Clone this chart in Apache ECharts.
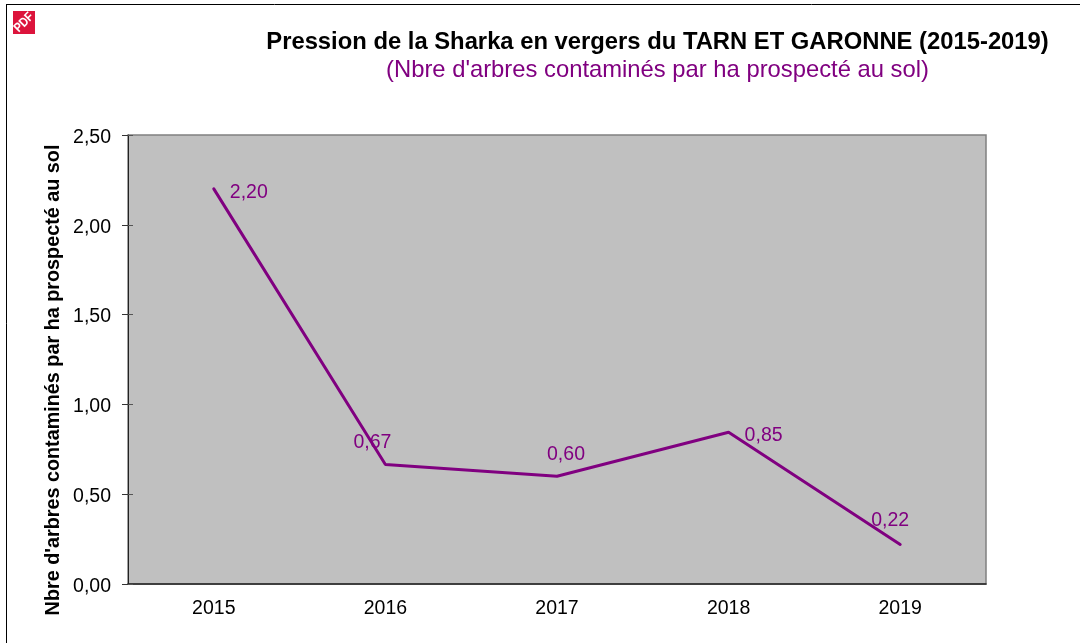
<!DOCTYPE html>
<html>
<head>
<meta charset="utf-8">
<style>
  html, body { margin: 0; padding: 0; background: #fff; }
  #chart { width: 1080px; height: 643px; }
</style>
<script src="https://cdn.jsdelivr.net/npm/echarts@6/dist/echarts.min.js"></script>
</head>
<body>
<div id="chart"></div>
<script>
// Pression de la Sharka

var years = ['2015', '2016', '2017', '2018', '2019'];
var pression = [2.20, 0.665, 0.60, 0.845, 0.22];
var valueLabels = ['2,20', '0,67', '0,60', '0,85', '0,22'];
var labelOffsets = [[35, 14], [-13, -11], [9, -11], [35, 14], [-10, -13]];

var purple = '#800080';
var fontName = '"Liberation Sans", Arial, sans-serif';

var chart = echarts.init(document.querySelector('#chart'), null, { renderer: 'canvas' });

chart.setOption({
    animation: false,
    backgroundColor: '#ffffff',
    title: [
        {
            text: 'Pression de la Sharka en vergers du TARN ET GARONNE (2015-2019)',
            left: 652.5,
            top: 25,
            textAlign: 'center',
            textStyle: { color: '#000', fontFamily: fontName, fontSize: 23.8, fontWeight: 'bold' }
        },
        {
            text: "(Nbre d'arbres contaminés par ha prospecté au sol)",
            left: 652.5,
            top: 53,
            textAlign: 'center',
            textStyle: { color: purple, fontFamily: fontName, fontSize: 23.8, fontWeight: 'normal' }
        }
    ],
    grid: {
        left: 128,
        right: 94,
        top: 135,
        bottom: 59,
        show: true,
        backgroundColor: '#c0c0c0',
        borderColor: '#808080',
        borderWidth: 1.5
    },
    xAxis: [
        {
            type: 'category',
            data: years,
            axisLine: { lineStyle: { color: '#222', width: 1.5 } },
            axisTick: { alignWithLabel: false, length: 6, lineStyle: { color: '#222' } },
            axisLabel: { color: '#000', fontFamily: fontName, fontSize: 19.5, margin: 15 },
            splitLine: { show: false }
        },
        {
            type: 'category',
            data: years,
            position: 'bottom',
            axisLine: { show: false },
            axisTick: { inside: true, length: 5, lineStyle: { color: '#555' } },
            axisLabel: { show: false },
            splitLine: { show: false }
        }
    ],
    yAxis: [
        {
            type: 'value',
            min: 0,
            max: 2.5,
            interval: 0.5,
            axisLine: { show: true, lineStyle: { color: '#222', width: 1 } },
            axisTick: { show: true, length: 6, lineStyle: { color: '#333' } },
            axisLabel: {
                color: '#000',
                fontFamily: fontName,
                margin: 17,
                formatter: function (v) { return '{t|' + v.toFixed(2).replace('.', ',') + '}'; },
                rich: {
                    t: { color: '#000', fontFamily: fontName, fontSize: 19.5, padding: [5, 0, 0, 0] }
                }
            },
            splitLine: { show: false }
        },
        {
            type: 'value',
            min: 0,
            max: 2.5,
            interval: 0.5,
            position: 'left',
            axisLine: { show: false },
            axisTick: { show: true, inside: true, length: 5, lineStyle: { color: '#555' } },
            axisLabel: { show: false },
            splitLine: { show: false }
        }
    ],
    series: [
        {
            name: 'Pression',
            type: 'line',
            data: pression.map(function (v, i) {
                return {
                    value: v,
                    label: { formatter: valueLabels[i], offset: labelOffsets[i] }
                };
            }),
            symbol: 'circle',
            symbolSize: 1,
            itemStyle: { color: purple },
            lineStyle: { color: purple, width: 3, cap: 'round' },
            label: {
                show: true,
                position: 'top',
                distance: 0,
                color: purple,
                fontFamily: fontName,
                fontSize: 19.5
            }
        }
    ],
    graphic: [
        { type: 'line', shape: { x1: 6.5, y1: 4.5, x2: 6.5, y2: 643 }, style: { stroke: '#000', lineWidth: 1 } },
        { type: 'line', shape: { x1: 6, y1: 4.5, x2: 1080, y2: 4.5 }, style: { stroke: '#000', lineWidth: 1 } },
        { type: 'rect', shape: { x: 13, y: 11, width: 22, height: 23 }, style: { fill: '#dc143c' } },
        {
            type: 'text',
            x: 24,
            y: 22.5,
            rotation: Math.PI / 4,
            scaleX: 0.85,
            style: {
                text: 'PDF',
                fill: '#fff',
                font: 'bold 13px ' + fontName,
                align: 'center',
                verticalAlign: 'middle'
            }
        },
        {
            type: 'text',
            x: 54,
            y: 380,
            rotation: Math.PI / 2,
            style: {
                text: "Nbre d'arbres contaminés par ha prospecté au sol",
                fill: '#000',
                font: 'bold 19.8px ' + fontName,
                align: 'center',
                verticalAlign: 'middle'
            }
        }
    ]
});
</script>
</body>
</html>
